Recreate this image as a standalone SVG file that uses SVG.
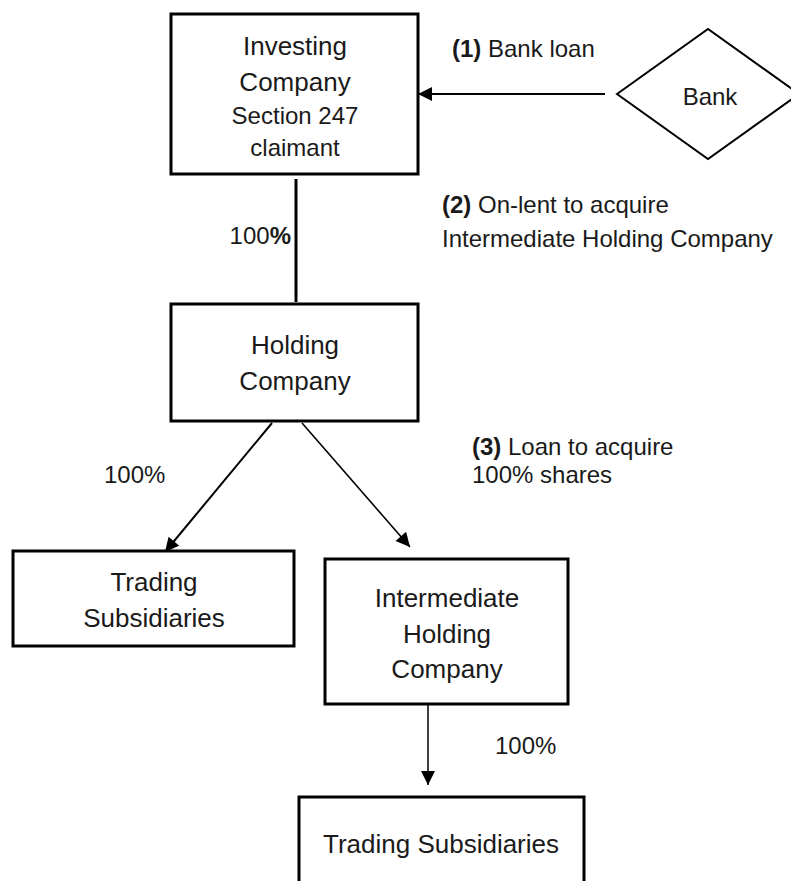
<svg xmlns="http://www.w3.org/2000/svg" width="791" height="881" viewBox="0 0 791 881">
<style>
.box{fill:#fff;stroke:#000;stroke-width:3}
.t{font-family:"Liberation Sans",Arial,sans-serif;font-size:26px;fill:#1a1a1a;text-anchor:middle}
.s{font-size:24px}
.l{font-family:"Liberation Sans",Arial,sans-serif;font-size:24px;fill:#1a1a1a}
.b{font-weight:bold}
.c{stroke:#000;fill:none}
</style>
<defs>
<marker id="ah" viewBox="0 0 10 10" refX="10" refY="5" markerUnits="userSpaceOnUse" markerWidth="16" markerHeight="14" orient="auto">
<path d="M0,0 L10,5 L0,10 Z" fill="#000"/>
</marker>
</defs>
<rect width="791" height="881" fill="#fff"/>
<g id="connectors">
<line class="c" x1="296" y1="179" x2="296" y2="302" stroke-width="3"/>
<line class="c" x1="605" y1="94" x2="418" y2="94" stroke-width="2" marker-end="url(#ah)"/>
<line class="c" x1="272" y1="423" x2="165" y2="552" stroke-width="2" marker-end="url(#ah)"/>
<line class="c" x1="302" y1="423" x2="410" y2="547" stroke-width="1.6" marker-end="url(#ah)"/>
<line class="c" x1="428" y1="705" x2="428" y2="785" stroke-width="1.5" marker-end="url(#ah)"/>
</g>
<g id="investing-company">
<rect class="box" x="171" y="14" width="247" height="160"/>
<text class="t" x="295" y="55">Investing</text>
<text class="t" x="295" y="91">Company</text>
<text class="t s" x="295" y="124">Section 247</text>
<text class="t s" x="295" y="156">claimant</text>
</g>
<g id="bank">
<polygon points="617,94 708,29 799,94 708,159" fill="#fff" stroke="#000" stroke-width="2"/>
<text class="t s" x="710" y="105">Bank</text>
</g>
<g id="holding-company">
<rect class="box" x="171" y="304" width="247" height="117"/>
<text class="t" x="295" y="354">Holding</text>
<text class="t" x="295" y="390">Company</text>
</g>
<g id="trading-subsidiaries-1">
<rect class="box" x="13" y="551" width="281" height="95"/>
<text class="t" x="154" y="591">Trading</text>
<text class="t" x="154" y="627">Subsidiaries</text>
</g>
<g id="intermediate-holding-company">
<rect class="box" x="325" y="559" width="243" height="145"/>
<text class="t" x="447" y="607">Intermediate</text>
<text class="t" x="447" y="643">Holding</text>
<text class="t" x="447" y="678">Company</text>
</g>
<g id="trading-subsidiaries-2">
<rect class="box" x="299" y="797" width="285" height="110"/>
<text class="t" x="441" y="853">Trading Subsidiaries</text>
</g>
<g id="labels">
<text class="l" x="452" y="57"><tspan class="b">(1)</tspan> Bank loan</text>
<text class="l" x="442" y="213"><tspan class="b">(2)</tspan> On-lent to acquire</text>
<text class="l" x="442" y="247">Intermediate Holding Company</text>
<text class="l" x="291" y="244" text-anchor="end">100<tspan class="b">%</tspan></text>
<text class="l" x="104" y="483">100%</text>
<text class="l" x="472" y="455"><tspan class="b">(3)</tspan> Loan to acquire</text>
<text class="l" x="472" y="483">100% shares</text>
<text class="l" x="495" y="754">100%</text>
</g>
</svg>
